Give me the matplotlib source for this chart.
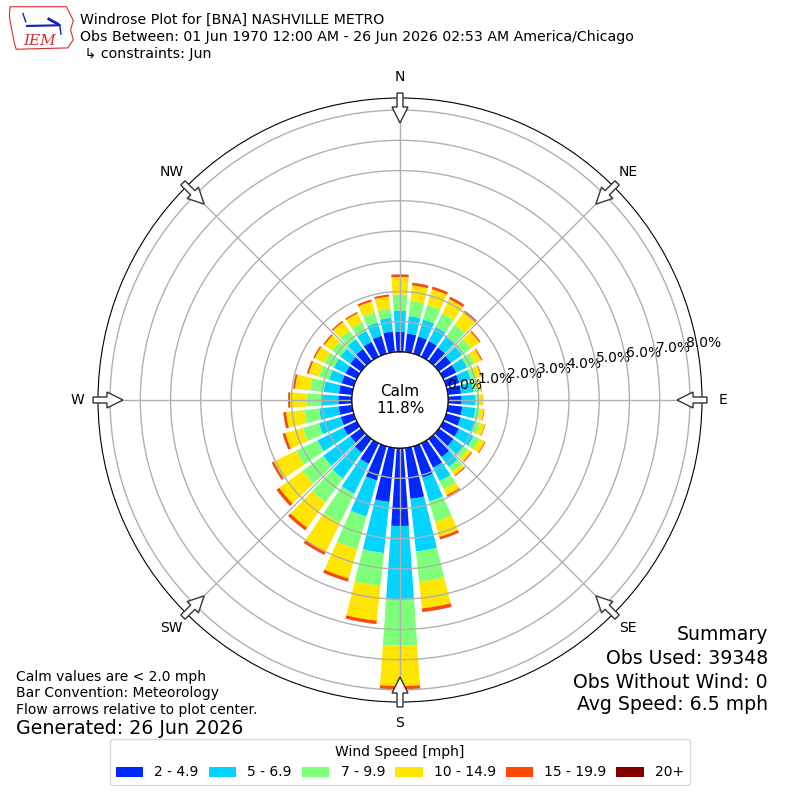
import numpy as np
import matplotlib
matplotlib.use("Agg")
import matplotlib.pyplot as plt
from matplotlib.patches import Patch, Circle, FancyArrow, Polygon

# direction of bar centres (deg, meteorological)
directions = np.arange(0, 360, 10)

# percent of obs in each speed bin, one value per direction
spd_2_5 = [0.66, 0.62, 0.60, 0.58, 0.55, 0.50, 0.48, 0.45, 0.44, 0.45,
           0.48, 0.50, 0.58, 0.60, 0.75, 0.90, 1.08, 1.70, 2.58, 1.80,
           1.18, 0.76, 0.56, 0.45, 0.49, 0.45, 0.45, 0.45, 0.44, 0.42,
           0.42, 0.45, 0.50, 0.55, 0.62, 0.69]
spd_5_7 = [0.70, 0.58, 0.58, 0.52, 0.47, 0.45, 0.40, 0.40, 0.41, 0.44,
           0.44, 0.48, 0.54, 0.40, 0.40, 0.50, 0.82, 1.75, 2.44, 1.70,
           1.24, 1.10, 1.06, 1.10, 0.96, 0.75, 0.65, 0.55, 0.51, 0.43,
           0.43, 0.40, 0.40, 0.40, 0.46, 0.46]
spd_7_10 = [0.54, 0.50, 0.50, 0.50, 0.48, 0.35, 0.27, 0.17, 0.13, 0.13,
            0.15, 0.18, 0.21, 0.18, 0.20, 0.30, 0.70, 1.00, 1.51, 1.10,
            1.12, 1.07, 0.98, 0.85, 0.78, 0.55, 0.50, 0.50, 0.45, 0.35,
            0.35, 0.33, 0.35, 0.32, 0.34, 0.30]
spd_10_15 = [0.58, 0.52, 0.54, 0.52, 0.48, 0.35, 0.25, 0.18, 0.13, 0.13,
             0.13, 0.17, 0.20, 0.14, 0.13, 0.22, 0.52, 0.89, 1.34, 1.15,
             1.01, 1.07, 1.03, 0.95, 0.82, 0.61, 0.60, 0.55, 0.50, 0.35,
             0.35, 0.32, 0.35, 0.33, 0.38, 0.40]
spd_15_20 = [0.07, 0.08, 0.08, 0.08, 0.07, 0.05, 0.04, 0.03, 0.02, 0.01,
             0.02, 0.02, 0.03, 0.04, 0.04, 0.05, 0.08, 0.11, 0.10, 0.10,
             0.10, 0.10, 0.10, 0.10, 0.07, 0.08, 0.08, 0.05, 0.05, 0.05,
             0.05, 0.05, 0.05, 0.05, 0.07, 0.07]
spd_20 = [0.01, 0.01, 0.01, 0.01, 0.01, 0.0, 0.0, 0.0, 0.0, 0.0,
          0.0, 0.0, 0.0, 0.0, 0.0, 0.0, 0.01, 0.01, 0.01, 0.01,
          0.01, 0.01, 0.01, 0.01, 0.01, 0.01, 0.01, 0.01, 0.01, 0.01,
          0.0, 0.0, 0.0, 0.0, 0.0, 0.0]

bins = [spd_2_5, spd_5_7, spd_7_10, spd_10_15, spd_15_20, spd_20]
bin_labels = ["2 - 4.9", "5 - 6.9", "7 - 9.9", "10 - 14.9", "15 - 19.9", "20+"]
bin_colors = ["#0028ff", "#00d4ff", "#7dff7a", "#ffe600", "#ff4800", "#800000"]

ring_values = [0, 1, 2, 3, 4, 5, 6, 7, 8]
compass = ["N", "NE", "E", "SE", "S", "SW", "W", "NW"]
calm_pct = 11.8

fig = plt.figure(figsize=(8, 8), dpi=100)
ax = fig.add_axes([0.1225, 0.1225, 0.755, 0.755], projection="polar")
ax.set_theta_zero_location("N")
ax.set_theta_direction(-1)

theta = np.deg2rad(directions)
width = np.deg2rad(10) * 0.8
base = np.zeros(len(directions))
for vals, col in zip(bins, bin_colors):
    vals = np.array(vals)
    ax.bar(theta, vals, width=width, bottom=base, color=col, linewidth=0)
    base = base + vals

ax.set_ylim(0, 8.4)
ax.set_rorigin(-1.59)
ax.set_rgrids(ring_values, labels=["%.1f%%" % v for v in ring_values],
              angle=80, fontsize=10)
ax.set_thetagrids(range(0, 360, 45), labels=[""] * 8)
ax.grid(True, color="#b0b0b0", linewidth=1)
ax.spines["polar"].set_color("black")

# calm circle in the middle
ax.add_patch(Circle((0.5, 0.5), 48 / 604, transform=ax.transAxes,
                    facecolor="white", edgecolor="black", lw=1, zorder=5))
ax.text(0.5, 0.5, "Calm\n%.1f%%" % calm_pct, transform=ax.transAxes,
        ha="center", va="center", fontsize=11, zorder=6)

# compass labels and inward flow arrows
for i, lab in enumerate(compass):
    a = np.deg2rad(i * 45)
    ax.text(a, 9.09, lab, ha="center", va="center", fontsize=10, clip_on=False)
    r0 = 307 / 800
    r1 = 277 / 800
    x0 = 0.5 + r0 * np.sin(a)
    y0 = 0.5 + r0 * np.cos(a)
    dx = (r1 - r0) * np.sin(a)
    dy = (r1 - r0) * np.cos(a)
    arr = FancyArrow(x0, y0, dx, dy, width=6 / 800, head_width=16 / 800,
                     head_length=16 / 800, length_includes_head=True,
                     facecolor="white", edgecolor="#333333", lw=1,
                     transform=fig.transFigure, zorder=10)
    fig.add_artist(arr)

# header
fig.text(0.1, 1 - 20 / 800, "Windrose Plot for [BNA] NASHVILLE METRO",
         fontsize=10.15, va="center")
fig.text(0.1, 1 - 37 / 800,
         "Obs Between: 01 Jun 1970 12:00 AM - 26 Jun 2026 02:53 AM America/Chicago",
         fontsize=10.15, va="center")
fig.text(0.1, 1 - 54 / 800, " \u21b3 constraints: Jun", fontsize=10.15, va="center")

# logo
lax = fig.add_axes([0.01, 0.935, 0.085, 0.06])
lax.set_xlim(0, 10)
lax.set_ylim(0, 7)
lax.axis("off")
lax.add_patch(Polygon([[0.3, 6.6], [8.6, 6.6], [9.0, 5.8], [9.6, 4.6], [9.2, 3.2],
                       [9.6, 1.8], [8.8, 0.6], [1.2, 0.4], [0.9, 1.5], [0.5, 3.5],
                       [0.2, 5.2]],
                      closed=True, fill=False, edgecolor="#d03030", lw=0.8))
lax.plot([2.8, 7.6], [3.8, 3.9], color="#1020c0", lw=1.5)
lax.plot([6.0, 7.3], [4.8, 4.1], color="#1020c0", lw=2)
lax.plot([2.2, 2.6], [5.6, 4.4], color="#1020c0", lw=1)
lax.plot([7.6, 7.8], [3.9, 2.6], color="#1020c0", lw=1)
lax.text(4.6, 1.6, "IEM", color="#d03030", fontsize=11, ha="center", va="center",
         family="DejaVu Serif", style="italic")

# notes
fig.text(0.02, 1 - 677 / 800, "Calm values are < 2.0 mph", fontsize=10, va="center")
fig.text(0.02, 1 - 693 / 800, "Bar Convention: Meteorology", fontsize=10, va="center")
fig.text(0.02, 1 - 710 / 800, "Flow arrows relative to plot center.", fontsize=10,
         va="center")
fig.text(0.02, 1 - 729 / 800, "Generated: 26 Jun 2026", fontsize=13.7, va="center")

for yy, txt in zip([635, 659, 682, 705],
                   ["Summary", "Obs Used: 39348", "Obs Without Wind: 0",
                    "Avg Speed: 6.5 mph"]):
    fig.text(0.96, 1 - yy / 800, txt, fontsize=13.6, ha="right", va="center")

handles = [Patch(facecolor=c, edgecolor="none") for c in bin_colors]
fig.legend(handles, bin_labels, ncol=6, loc="lower center",
           bbox_to_anchor=(0.5, 0.01), title="Wind Speed [mph]", fontsize=10,
           title_fontsize=10, columnspacing=0.7)

fig.savefig("out.png", dpi=100)
